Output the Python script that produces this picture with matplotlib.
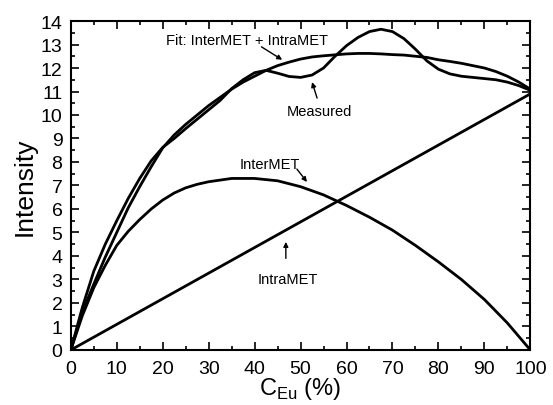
import numpy as np
import matplotlib
matplotlib.use('Agg')
import matplotlib.pyplot as plt
from matplotlib.ticker import MultipleLocator

plt.rcParams['font.family'] = ['Liberation Sans', 'DejaVu Sans']

# Eu concentration (%) sampled every 2.5
conc = [0, 2.5, 5, 7.5, 10, 12.5, 15, 17.5, 20, 22.5, 25, 27.5, 30, 32.5, 35,
        37.5, 40, 42.5, 45, 47.5, 50, 52.5, 55, 57.5, 60, 62.5, 65, 67.5, 70,
        72.5, 75, 77.5, 80, 82.5, 85, 87.5, 90, 92.5, 95, 97.5, 100]

measured = [0, 1.8, 3.35, 4.5, 5.5, 6.45, 7.3, 8.05, 8.62, 9.0, 9.42, 9.82, 10.22,
            10.62, 11.12, 11.5, 11.8, 11.9, 11.78, 11.64, 11.6, 11.7, 12.0, 12.5,
            12.95, 13.3, 13.55, 13.65, 13.55, 13.25, 12.8, 12.3, 11.95, 11.75,
            11.65, 11.6, 11.55, 11.5, 11.4, 11.25, 11.05]

fit = [0, 1.6, 2.8, 3.95, 5.0, 6.05, 6.95, 7.8, 8.6, 9.15, 9.6, 10.0, 10.4, 10.75,
       11.1, 11.4, 11.65, 11.9, 12.1, 12.25, 12.38, 12.47, 12.52, 12.56, 12.6,
       12.62, 12.62, 12.6, 12.57, 12.55, 12.5, 12.45, 12.35, 12.28, 12.2, 12.1,
       12.0, 11.85, 11.65, 11.4, 11.1]

inter_x = [0, 2.5, 5, 7.5, 10, 12.5, 15, 17.5, 20, 22.5, 25, 27.5, 30, 35, 40,
           45, 50, 55, 60, 65, 70, 75, 80, 85, 90, 95, 100]
inter_met = [0, 1.45, 2.65, 3.6, 4.45, 5.05, 5.55, 6.0, 6.38, 6.68, 6.9, 7.05,
             7.16, 7.3, 7.3, 7.2, 6.95, 6.6, 6.15, 5.65, 5.1, 4.45, 3.75, 3.0,
             2.15, 1.15, 0]

intra_x = [0, 100]
intra_met = [0, 10.9]

fig = plt.figure(figsize=(5.53, 4.06), dpi=100)
ax = fig.add_axes([0.128, 0.1355, 0.831, 0.8103])

lw = 2.0
ax.plot(conc, measured, color='black', lw=lw)
ax.plot(conc, fit, color='black', lw=lw)
ax.plot(inter_x, inter_met, color='black', lw=lw)
ax.plot(intra_x, intra_met, color='black', lw=lw)

ax.set_xlim(0, 100)
ax.set_ylim(0, 14)
ax.xaxis.set_major_locator(MultipleLocator(10))
ax.xaxis.set_minor_locator(MultipleLocator(5))
ax.yaxis.set_major_locator(MultipleLocator(1))
ax.yaxis.set_minor_locator(MultipleLocator(0.5))
ax.tick_params(which='both', direction='in', top=True, right=True,
               labelsize=14, width=1.2)
ax.tick_params(which='major', length=6)
ax.tick_params(axis='x', which='major', pad=7)
ax.tick_params(axis='y', which='major', pad=6)
ax.tick_params(which='minor', length=3)
for s in ax.spines.values():
    s.set_linewidth(1.5)

ax.set_ylabel('Intensity', fontsize=19, labelpad=3)
ax.set_xlabel('C$_{\\mathregular{Eu}}$ (%)', fontsize=17, labelpad=-1)

arrow = dict(arrowstyle='-|>', color='black', lw=1.0, mutation_scale=7,
             shrinkA=0, shrinkB=0)
fs = 10.5
ax.text(20.8, 13.2, 'Fit: InterMET + IntraMET', fontsize=fs, va='center')
ax.annotate('', xy=(46, 12.35), xytext=(41.5, 12.9), arrowprops=arrow)

ax.text(47.0, 10.18, 'Measured', fontsize=fs, va='center')
ax.annotate('', xy=(52.5, 11.4), xytext=(53.6, 10.72), arrowprops=arrow)

ax.text(36.7, 7.91, 'InterMET', fontsize=fs, va='center')
ax.annotate('', xy=(51.4, 7.15), xytext=(49.2, 7.7), arrowprops=arrow)

ax.text(40.6, 3.02, 'IntraMET', fontsize=fs, va='center')
ax.annotate('', xy=(46.8, 4.6), xytext=(46.8, 3.9), arrowprops=arrow)

fig.savefig('out.png', dpi=100)
